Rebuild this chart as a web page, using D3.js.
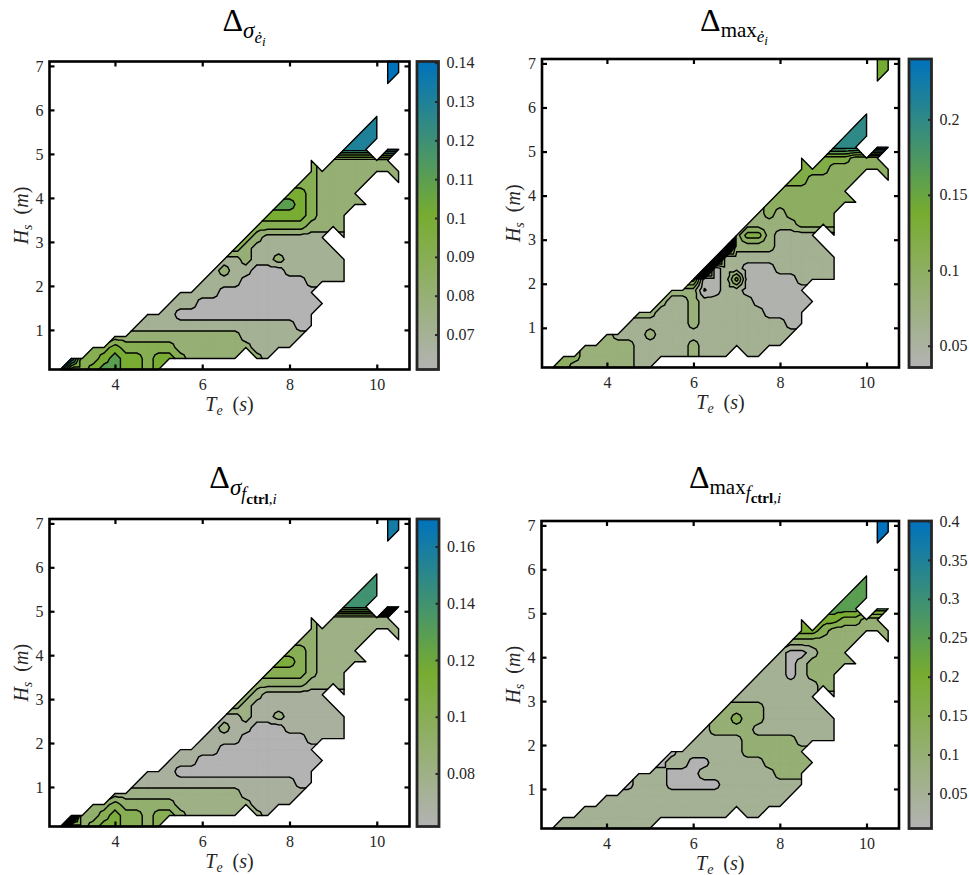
<!DOCTYPE html>
<html><head><meta charset="utf-8">
<script src="https://cdn.jsdelivr.net/npm/d3@7"></script>
<style>body{margin:0;background:#fff}svg{display:block}text{white-space:pre}</style>
</head><body>
<svg id="chart" width="969" height="875"></svg>
<script>
// ---------- grid of sea states ----------
const teGrid = [2.5,2.75,3,3.25,3.5,3.75,4,4.25,4.5,4.75,5,5.25,5.5,5.75,6,6.25,6.5,6.75,7,7.25,7.5,7.75,8,8.25,8.5,8.75,9,9.25,9.5,9.75,10,10.25,10.5,10.75];
const hsGrid = [0.1,0.35,0.6,0.85,1.1,1.35,1.6,1.85,2.1,2.35,2.6,2.85,3.1,3.35,3.6,3.85,4.1,4.35,4.6,4.85,5.1,5.35,5.6,5.85,6.1,6.35,6.6,6.85,7.1];
// first Te of each Hs row (bottom to top)
const rowStartTe = [2.75,3,3.5,4,4.5,4.75,5.25,5.5,6,6.25,6.5,6.75,7,7.25,7.5,7.75,8,8.25,8.5,8.5,9.25,9.5,9.75,10,null,null,10.25,10.25,10.25];

// ---------- panel 1 : Delta sigma edot ----------
const levels1 = [0.07,0.08,0.09,0.10,0.11,0.12,0.13,0.14];
const values1 = [0.065,0.075,0.085,0.095,0.105,0.115,0.125,0.135,0.1402];
const clim1 = [0.061,0.1403];
const cbTicks1 = [0.07,0.08,0.09,0.1,0.11,0.12,0.13,0.14];
const cbLabels1 = ["0.07","0.08","0.09","0.1","0.11","0.12","0.13","0.14"];
const rows1 = ["8334554434","8334544344322222.21","3343333322222221111","222222222222111111","11111111111111100","1110000000000000","111000000000000","1111000000000","11110000001111","1211000111111","112112111111","3211111111","32111111.1","333332222","44443222","554322222","4432222","3322222..2","322222222","3.222222","777.88","777","77","7","","","8","88","88"];

// ---------- panel 2 : Delta max edot ----------
const levels2 = [0.04,0.06,0.08,0.10,0.12,0.14,0.16,0.18,0.20,0.22,0.24];
const values2 = [0.038,0.05,0.07,0.09,0.11,0.13,0.15,0.17,0.19,0.21,0.23,0.25];
const clim2 = [0.0356,0.24];
const cbTicks2 = [0.05,0.1,0.15,0.2];
const cbLabels2 = ["0.05","0.1","0.15","0.2"];
const rows2 = ["4433333322","4433333222223222.22","3333322222322222222","322232222222222222","22222232222222211","3322232222221111","322322222111111","3330122111111","61125111112222","b122111222222","b22222222222","b333322222","35532222.2","333334444","34344444","444444444","4444444","5544444..4","555444444","5.555444","999.bb","999","99","9","","","6","66","66"];

// ---------- panel 3 : Delta sigma f_ctrl ----------
const levels3 = [0.07,0.08,0.09,0.10,0.11,0.12,0.13,0.14,0.15,0.16];
const values3 = [0.065,0.075,0.085,0.095,0.105,0.115,0.125,0.135,0.145,0.155,0.165];
const clim3 = [0.0613,0.1697];
const cbTicks3 = [0.08,0.1,0.12,0.14,0.16];
const cbLabels3 = ["0.08","0.1","0.12","0.14","0.16"];
const rows3 = ["a334554434","a334544344322222.21","3343333322222221111","222222222222111111","11111111111111100","1110000000000000","111000000000000","1111000000000","11110000001111","1211000111111","112112111111","3211111111","32111111.1","333332222","44443222","554322222","4432222","3322222..2","322222222","3.222222","888.aa","888","88","8","","","a","aa","aa"];

// ---------- panel 4 : Delta max f_ctrl ----------
const levels4 = [0.05,0.10,0.15,0.20,0.25,0.30,0.35,0.40];
const values4 = [0.03,0.075,0.125,0.175,0.225,0.275,0.325,0.375,0.402];
const clim4 = [0.005,0.4];
const cbTicks4 = [0.05,0.1,0.15,0.2,0.25,0.3,0.35,0.4];
const cbLabels4 = ["0.05","0.1","0.15","0.2","0.25","0.3","0.35","0.4"];
const rows4 = ["1111111111","1111111111111111.11","1111111111111111111","111111111111111111","01110000011111111","1110001111111222","011001111122222","0111111222222","11111222221111","1222211111111","223221111111","2222111111","11111111.1","111111122","11101222","110122222","1001222","2222222..2","443222222","4.443322","555.55","555","55","5","","","8","88","88"];

// ---------- layout ----------
const panels = [
  {rows:rows1, levels:levels1, values:values1, clim:clim1, cbTicks:cbTicks1, cbLabels:cbLabels1,
   rect:{l:49.5,r:409.5,t:61.5,b:369.5}, cb:{l:417,r:438.5}, title:{x:244,y:31}, ylab:28,
   tparts:[{t:"Δ",s:32},{t:"σ",s:23,i:1,dy:7},{t:"ė",s:17,i:1,dy:5},{t:"i",s:13,i:1,dy:3}]},
  {rows:rows2, levels:levels2, values:values2, clim:clim2, cbTicks:cbTicks2, cbLabels:cbLabels2,
   rect:{l:542,r:899,t:59,b:367.5}, cb:{l:909,r:931.5}, title:{x:734,y:31}, ylab:520,
   tparts:[{t:"Δ",s:32},{t:"max",s:21,dy:6},{t:"ė",s:17,i:1,dy:5},{t:"i",s:13,i:1,dy:3}]},
  {rows:rows3, levels:levels3, values:values3, clim:clim3, cbTicks:cbTicks3, cbLabels:cbLabels3,
   rect:{l:49.5,r:409.5,t:519,b:826.5}, cb:{l:417,r:439}, title:{x:243,y:488}, ylab:28,
   tparts:[{t:"Δ",s:32},{t:"σ",s:23,i:1,dy:7},{t:"f",s:18,i:1,dy:5},{t:"ctrl",s:15,b:1,dy:4},{t:",",s:15},{t:"i",s:15,i:1}]},
  {rows:rows4, levels:levels4, values:values4, clim:clim4, cbTicks:cbTicks4, cbLabels:cbLabels4,
   rect:{l:541.5,r:899,t:521,b:828.5}, cb:{l:909,r:931.5}, title:{x:735,y:488}, ylab:520,
   tparts:[{t:"Δ",s:32},{t:"max",s:21,dy:6},{t:"f",s:18,i:1,dy:5},{t:"ctrl",s:15,b:1,dy:4},{t:",",s:15},{t:"i",s:15,i:1}]}
];

const FONT = "'Liberation Serif','DejaVu Serif',serif";
const svg = d3.select("#chart");
const defs = svg.append("defs");
const grad = defs.append("linearGradient").attr("id","cmapGrad").attr("x1",0).attr("y1",1).attr("x2",0).attr("y2",0);
grad.append("stop").attr("offset","0").attr("stop-color","#b3b3b3");
grad.append("stop").attr("offset","0.5").attr("stop-color","#77ac30");
grad.append("stop").attr("offset","1").attr("stop-color","#0072bd");

function cmap(t){
  t = Math.max(0, Math.min(1, t));
  const g=[0.7,0.7,0.7], gr=[0.466,0.674,0.188], b=[0,0.447,0.741];
  let a,c,f;
  if(t<=0.5){a=g;c=gr;f=t/0.5;} else {a=gr;c=b;f=(t-0.5)/0.5;}
  const v=a.map((u,k)=>255*(u+(c[k]-u)*f));
  return d3.rgb(v[0],v[1],v[2]).formatHex();
}
function clip(poly, t, keepAbove){
  const out=[], n=poly.length;
  for(let k=0;k<n;k++){
    const P=poly[k], Q=poly[(k+1)%n];
    const pin = keepAbove ? P.v>=t : P.v<t;
    const qin = keepAbove ? Q.v>=t : Q.v<t;
    if(pin) out.push(P);
    if(pin!==qin){
      const f=(t-P.v)/(Q.v-P.v);
      out.push({x:P.x+f*(Q.x-P.x), y:P.y+f*(Q.y-P.y), v:t});
    }
  }
  return out;
}
const r2 = v => Math.round(v*100)/100;

panels.forEach((sp, pi) => {
  const g = svg.append("g");
  const x = d3.scaleLinear().domain([2.5,10.75]).range([sp.rect.l, sp.rect.r]);
  const y = d3.scaleLinear().domain([0.1,7.1]).range([sp.rect.b, sp.rect.t]);
  const V = hsGrid.map(()=>teGrid.map(()=>NaN));
  sp.rows.forEach((s,i)=>{
    if(!s) return;
    const j0 = teGrid.indexOf(rowStartTe[i]);
    for(let k=0;k<s.length;k++){ const ch=s[k]; if(ch!==".") V[i][j0+k]=sp.values[parseInt(ch,36)]; }
  });
  const P=(i,j)=>({x:x(teGrid[j]), y:y(hsGrid[i]), v:V[i][j], id:i+"_"+j});
  const tris=[];
  for(let i=0;i<hsGrid.length-1;i++){
    for(let j=0;j<teGrid.length-1;j++){
      const cs=[P(i,j),P(i,j+1),P(i+1,j+1),P(i+1,j)];
      const ok=cs.filter(p=>!isNaN(p.v));
      if(ok.length===4){
        const e={x:d3.mean(cs,p=>p.x), y:d3.mean(cs,p=>p.y), v:d3.mean(cs,p=>p.v), id:"c"+i+"_"+j};
        for(let k=0;k<4;k++) tris.push([cs[k],cs[(k+1)%4],e]);
      } else if(ok.length===3) tris.push(ok);
    }
  }
  const L=sp.levels, n=L.length;
  const span=sp.clim[1]-sp.clim[0];
  const bandPath=d3.range(n+1).map(()=>[]);
  const linePath=[];
  const edges=new Map();
  tris.forEach(tri=>{
    const vmin=d3.min(tri,p=>p.v), vmax=d3.max(tri,p=>p.v);
    for(let k=0;k<=n;k++){
      const lo = k===0 ? -Infinity : L[k-1];
      const hi = k===n ? Infinity : L[k];
      if(vmax<lo || vmin>=hi) continue;
      let poly=tri;
      if(k>0) poly=clip(poly,lo,true);
      if(k<n && poly.length>=3) poly=clip(poly,hi,false);
      if(poly.length>=3) bandPath[k].push("M"+poly.map(p=>r2(p.x)+","+r2(p.y)).join("L")+"Z");
    }
    L.forEach(t=>{
      const ab=tri.map(p=>p.v>=t);
      const c=ab.filter(Boolean).length;
      if(c===0||c===3) return;
      const pts=[];
      for(let k=0;k<3;k++){
        const A=tri[k], B=tri[(k+1)%3];
        if(ab[k]!==ab[(k+1)%3]){
          const f=(t-A.v)/(B.v-A.v);
          pts.push([A.x+f*(B.x-A.x), A.y+f*(B.y-A.y)]);
        }
      }
      if(pts.length===2) linePath.push("M"+r2(pts[0][0])+","+r2(pts[0][1])+"L"+r2(pts[1][0])+","+r2(pts[1][1]));
    });
    for(let k=0;k<3;k++){
      const A=tri[k], B=tri[(k+1)%3];
      const key = A.id<B.id ? A.id+"|"+B.id : B.id+"|"+A.id;
      const e=edges.get(key);
      if(e) e.c++; else edges.set(key,{a:A,b:B,c:1});
    }
  });
  bandPath.forEach((arr,k)=>{
    if(!arr.length) return;
    const low = k===0 ? sp.clim[0] : L[k-1];
    const col = cmap((low-sp.clim[0])/span);
    g.append("path").attr("d",arr.join("")).attr("fill",col).attr("stroke",col).attr("stroke-width",0.5);
  });
  g.append("path").attr("d",linePath.join("")).attr("fill","none").attr("stroke","#000").attr("stroke-width",1.4).attr("stroke-linecap","round");
  const bnd=[];
  edges.forEach(e=>{ if(e.c===1) bnd.push("M"+r2(e.a.x)+","+r2(e.a.y)+"L"+r2(e.b.x)+","+r2(e.b.y)); });
  g.append("path").attr("d",bnd.join("")).attr("fill","none").attr("stroke","#000").attr("stroke-width",1.4).attr("stroke-linecap","round");

  // axes
  const styleAxis = a => { a.select(".domain").remove(); a.selectAll(".tick line").attr("stroke","#000").attr("stroke-width",2.2);
    a.selectAll("text").attr("font-family",FONT).attr("font-size",16).attr("fill","#262626"); };
  const ax = g.append("g").attr("transform",`translate(0,${sp.rect.b})`)
    .call(d3.axisBottom(x).tickValues([4,6,8,10]).tickSizeInner(-5).tickSizeOuter(0).tickPadding(9).tickFormat(d3.format("d")));
  styleAxis(ax);
  const axT = g.append("g").attr("transform",`translate(0,${sp.rect.t})`)
    .call(d3.axisTop(x).tickValues([4,6,8,10]).tickSizeInner(-5).tickSizeOuter(0).tickFormat(""));
  styleAxis(axT);
  const ay = g.append("g").attr("transform",`translate(${sp.rect.l},0)`)
    .call(d3.axisLeft(y).tickValues([1,2,3,4,5,6,7]).tickSizeInner(-5).tickSizeOuter(0).tickPadding(6).tickFormat(d3.format("d")));
  styleAxis(ay);
  const ayR = g.append("g").attr("transform",`translate(${sp.rect.r},0)`)
    .call(d3.axisRight(y).tickValues([1,2,3,4,5,6,7]).tickSizeInner(-5).tickSizeOuter(0).tickFormat(""));
  styleAxis(ayR);
  g.append("rect").attr("x",sp.rect.l).attr("y",sp.rect.t).attr("width",sp.rect.r-sp.rect.l).attr("height",sp.rect.b-sp.rect.t)
    .attr("fill","none").attr("stroke","#000").attr("stroke-width",2.6);

  // colorbar
  const cy = d3.scaleLinear().domain(sp.clim).range([sp.rect.b, sp.rect.t]);
  g.append("rect").attr("x",sp.cb.l).attr("y",sp.rect.t).attr("width",sp.cb.r-sp.cb.l).attr("height",sp.rect.b-sp.rect.t)
    .attr("fill","url(#cmapGrad)");
  const ac = g.append("g").attr("transform",`translate(${sp.cb.r},0)`)
    .call(d3.axisRight(cy).tickValues(sp.cbTicks).tickSizeInner(-3.5).tickSizeOuter(0).tickPadding(8)
      .tickFormat((d,i)=>sp.cbLabels[i]));
  ac.select(".domain").remove();
  ac.selectAll(".tick line").attr("stroke","#262626").attr("stroke-width",2);
  ac.selectAll("text").attr("font-family",FONT).attr("font-size",16).attr("fill","#262626");
  g.append("rect").attr("x",sp.cb.l).attr("y",sp.rect.t).attr("width",sp.cb.r-sp.cb.l).attr("height",sp.rect.b-sp.rect.t)
    .attr("fill","none").attr("stroke","#262626").attr("stroke-width",2.8);

  // axis labels
  const xl = g.append("text").attr("x",(sp.rect.l+sp.rect.r)/2).attr("y",sp.rect.b+41).attr("text-anchor","middle")
    .attr("font-family",FONT).attr("font-size",20).attr("fill","#262626");
  xl.append("tspan").attr("font-style","italic").text("T");
  xl.append("tspan").attr("font-style","italic").attr("font-size",14).attr("dy",4).text("e");
  xl.append("tspan").attr("dy",-4).text("  (");
  xl.append("tspan").attr("font-style","italic").text("s");
  xl.append("tspan").text(")");
  const yc=(sp.rect.t+sp.rect.b)/2;
  const yl = g.append("text").attr("transform",`translate(${sp.ylab},${yc}) rotate(-90)`).attr("text-anchor","middle")
    .attr("font-family",FONT).attr("font-size",20).attr("fill","#262626");
  yl.append("tspan").attr("font-style","italic").text("H");
  yl.append("tspan").attr("font-style","italic").attr("font-size",14).attr("dy",4).text("s");
  yl.append("tspan").attr("dy",-4).text("  (");
  yl.append("tspan").attr("font-style","italic").text("m");
  yl.append("tspan").text(")");

  // title
  const tt = g.append("text").attr("x",sp.title.x).attr("y",sp.title.y).attr("text-anchor","middle")
    .attr("font-family",FONT).attr("fill","#000");
  sp.tparts.forEach(p=>{
    const ts=tt.append("tspan").attr("font-size",p.s).text(p.t);
    if(p.i) ts.attr("font-style","italic");
    if(p.b) ts.attr("font-weight","bold");
    if(p.dy) ts.attr("dy",p.dy);
  });
});
</script>
</body></html>
